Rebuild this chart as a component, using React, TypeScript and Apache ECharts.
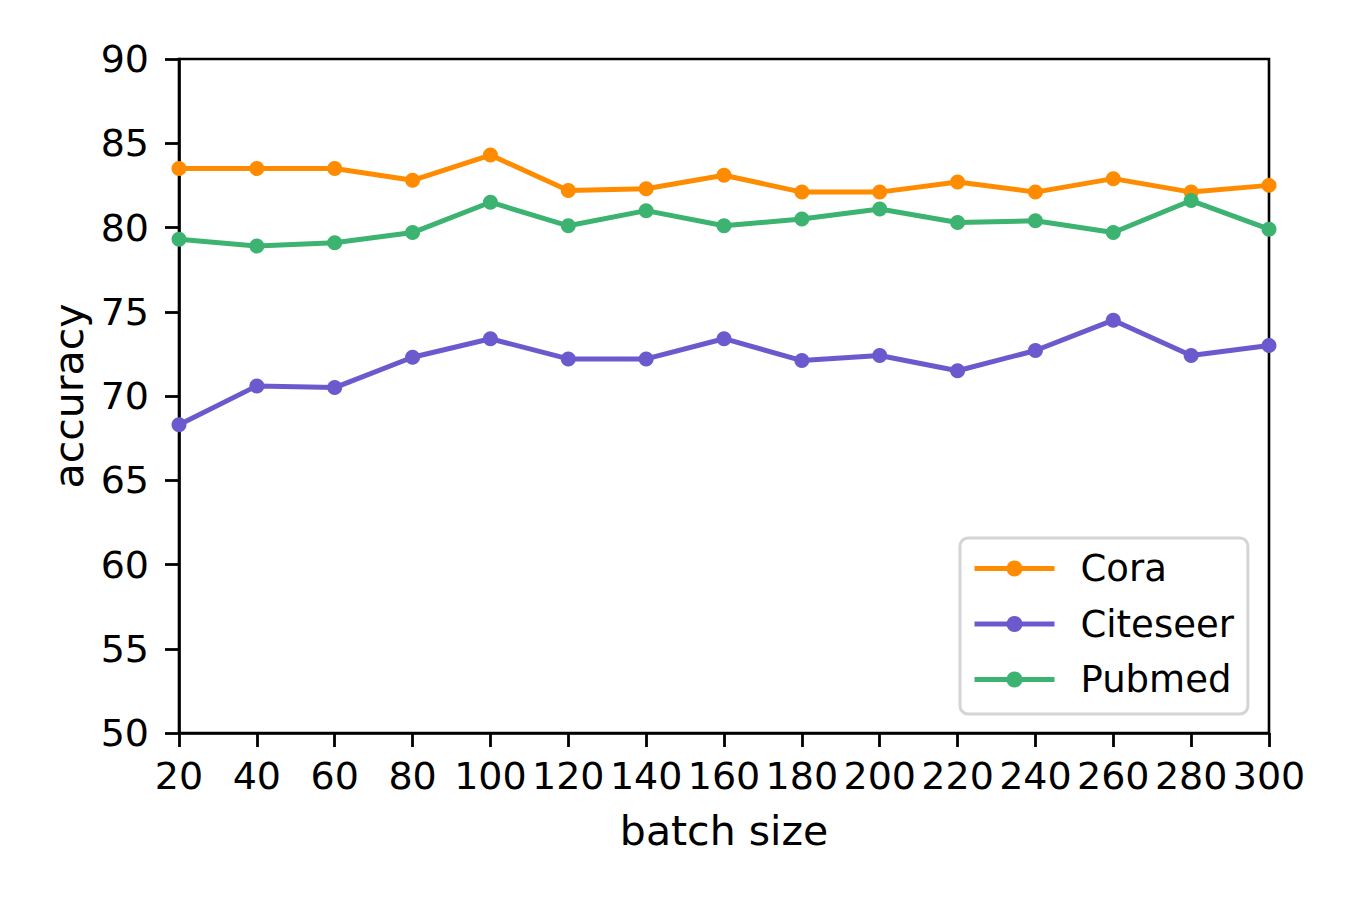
import React, { useEffect, useRef } from "react";
import * as echarts from "echarts";

const batchSizes = [20, 40, 60, 80, 100, 120, 140, 160, 180, 200, 220, 240, 260, 280, 300];
const cora = [83.5, 83.5, 83.5, 82.8, 84.3, 82.2, 82.3, 83.1, 82.1, 82.1, 82.7, 82.1, 82.9, 82.1, 82.5];
const citeseer = [68.3, 70.6, 70.5, 72.3, 73.4, 72.2, 72.2, 73.4, 72.1, 72.4, 71.5, 72.7, 74.5, 72.4, 73.0];
const pubmed = [79.3, 78.9, 79.1, 79.7, 81.5, 80.1, 81.0, 80.1, 80.5, 81.1, 80.3, 80.4, 79.7, 81.6, 79.9];

const seriesNames = ["Cora", "Citeseer", "Pubmed"];
const seriesColors = ["#ff8c00", "#6a5acd", "#3cb371"];
const seriesValues = [cora, citeseer, pubmed];

const FONT = "DejaVu Sans";
const FS = 38;
const LEGEND_FS = 37;
const NAME_FS = 41;

export default function App() {
  const ref = useRef<HTMLDivElement>(null);
  useEffect(() => {
    if (!ref.current) return;
    const chart = echarts.init(ref.current, null, { renderer: "svg" });
    chart.setOption({
      animation: false,
      backgroundColor: "#ffffff",
      textStyle: { fontFamily: FONT },
      grid: {
        left: 179,
        right: 81,
        top: 59,
        bottom: 167,
        show: true,
        borderColor: "#000",
        borderWidth: 2.6,
        backgroundColor: "transparent",
      },
      legend: {
        orient: "vertical",
        left: 960,
        top: 538,
        padding: [12, 14, 16, 12],
        itemWidth: 80,
        itemHeight: 20,
        itemGap: 18.5,
        backgroundColor: "rgba(255,255,255,0.8)",
        borderColor: "#d4d4d4",
        borderWidth: 3,
        borderRadius: 8,
        lineStyle: { width: 5 },
        textStyle: {
          fontFamily: FONT,
          fontSize: LEGEND_FS,
          color: "#000",
          padding: [0, 0, 0, 21],
        },
        data: seriesNames,
      },
      xAxis: {
        type: "value",
        min: 20,
        max: 300,
        interval: 20,
        name: "batch size",
        nameLocation: "middle",
        nameGap: 77,
        nameTextStyle: { fontFamily: FONT, fontSize: NAME_FS, color: "#000" },
        axisLine: { show: true, lineStyle: { color: "#000", width: 2.6 } },
        axisTick: { show: true, inside: false, length: 14, lineStyle: { color: "#000", width: 2.8 } },
        axisLabel: { fontFamily: FONT, fontSize: FS, color: "#000", margin: 24 },
        splitLine: { show: false },
      },
      yAxis: {
        type: "value",
        min: 50,
        max: 90,
        interval: 5,
        name: "accuracy",
        nameLocation: "middle",
        nameGap: 90,
        nameTextStyle: { fontFamily: FONT, fontSize: NAME_FS, color: "#000" },
        axisLine: { show: true, lineStyle: { color: "#000", width: 2.6 } },
        axisTick: { show: true, inside: false, length: 14, lineStyle: { color: "#000", width: 2.8 } },
        axisLabel: { fontFamily: FONT, fontSize: FS, color: "#000", margin: 30 },
        splitLine: { show: false },
      },
      series: seriesNames.map((name, i) => ({
        name,
        type: "line",
        data: batchSizes.map((x, j) => [x, seriesValues[i][j]]),
        symbol: "circle",
        symbolSize: 15,
        showSymbol: true,
        clip: false,
        lineStyle: { color: seriesColors[i], width: 5 },
        itemStyle: { color: seriesColors[i] },
      })),
    });
    return () => chart.dispose();
  }, []);
  return (
    <div
      ref={ref}
      style={{ position: "fixed", left: 0, top: 0, width: 1350, height: 900 }}
    />
  );
}
